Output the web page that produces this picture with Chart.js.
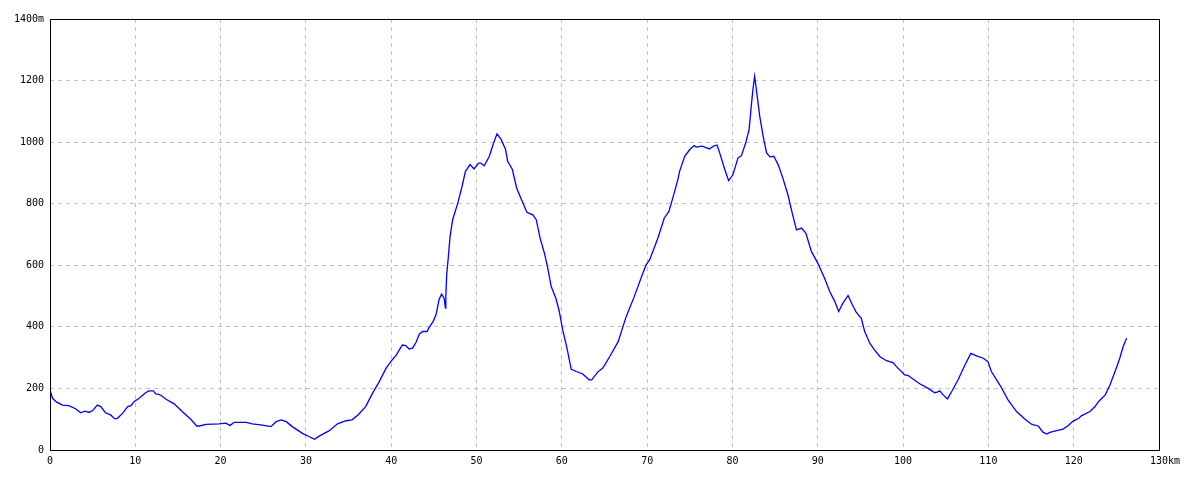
<!DOCTYPE html>
<html>
<head>
<meta charset="utf-8">
<script src="https://cdn.jsdelivr.net/npm/chart.js@4/dist/chart.umd.min.js"></script>
<style>
  html, body { margin: 0; padding: 0; background: #fff; }
  #wrap { width: 1200px; height: 480px; }
</style>
</head>
<body>
<div id="wrap"><canvas id="profileChart" width="1200" height="480"></canvas></div>
<script>
// distance along route (km)
var distanceKm = [
    0, 0.3, 0.7, 1.45, 2.2, 3.0, 3.6, 4.1, 4.6, 5.0, 5.55, 5.95, 6.5, 7.1, 7.6, 7.9,
    8.5, 9.1, 9.5, 9.85, 10.45, 11.2, 11.6, 12.1, 12.4, 12.7, 13.0, 13.6, 14.55, 15.5,
    16.5, 17.2, 17.5, 18.3, 19.8, 20.6, 21.1, 21.6, 23.0, 23.7, 24.9, 25.9, 26.5, 27.1,
    27.7, 28.4, 29.6, 30.4, 31.0, 31.6, 32.7, 33.7, 34.7, 35.4, 36.1, 37.0, 37.8, 38.6,
    39.4, 40.0, 40.6, 41.3, 41.7, 42.1, 42.5, 42.9, 43.3, 43.7, 44.2, 44.4, 44.9, 45.25,
    45.6, 45.9, 46.2, 46.35, 46.4, 46.5, 46.7, 46.9, 47.2, 47.8, 48.3, 48.7, 49.25, 49.7,
    50.25, 50.5, 50.9, 51.5, 52.0, 52.4, 52.9, 53.4, 53.65, 54.2, 54.7, 55.2, 55.9, 56.6,
    57.0, 57.45, 57.95, 58.35, 58.75, 59.3, 59.7, 60.1, 60.6, 61.1, 61.7, 62.45, 63.2,
    63.5, 64.2, 64.8, 65.6, 66.6, 67.55, 68.5, 69.5, 69.9, 70.3, 71.25, 72.0, 72.55, 73.0,
    73.6, 73.8, 74.4, 75.0, 75.5, 75.75, 76.45, 77.3, 77.9, 78.2, 78.5, 79.1, 79.55, 80.05,
    80.65, 81.05, 81.55, 81.95, 82.2, 82.4, 82.6, 82.85, 83.2, 83.6, 84.0, 84.4, 84.85,
    85.35, 85.9, 86.5, 87.0, 87.5, 88.1, 88.6, 89.25, 90.0, 90.8, 91.4, 92.0, 92.45, 92.95,
    93.55, 94.05, 94.5, 95.1, 95.5, 96.1, 96.6, 97.3, 98.05, 98.8, 99.4, 100.2, 100.6,
    101.2, 101.95, 102.9, 103.7, 104.0, 104.3, 104.7, 105.2, 105.7, 106.45, 107.25, 107.95,
    108.6, 109.4, 109.95, 110.35, 111.35, 112.3, 113.3, 114.3, 115.1, 115.85, 116.4, 116.85,
    117.2, 118.0, 118.75, 119.3, 119.9, 120.6, 120.9, 121.9, 122.5, 122.9, 123.7, 124.25,
    124.85, 125.4, 125.8, 126.2
];

// elevation (m)
var elevationM = [
    195, 168, 157, 146, 144, 134, 121, 126, 122, 128, 146, 141, 121, 114, 101, 103,
    119, 141, 144, 157, 168, 186, 192, 192, 182, 181, 178, 165, 150, 125,
    100, 78, 78, 83, 85, 87, 80, 90, 90, 85, 81, 76, 92, 98,
    92, 76, 54, 43, 35, 46, 62, 85, 95, 98, 114, 141, 184, 222,
    266, 289, 309, 341, 339, 328, 331, 349, 377, 385, 385, 396, 417, 439,
    488, 506, 493, 461, 499, 569, 629, 694, 748, 802, 856, 905, 927, 913,
    932, 932, 923, 954, 997, 1027, 1008, 976, 938, 911, 851, 818, 772, 764,
    748, 688, 640, 591, 531, 493, 450, 390, 331, 262, 255, 247, 228,
    228, 253, 266, 303, 352, 434, 499, 575, 602, 618, 688, 753, 775, 818,
    878, 905, 954, 976, 989, 984, 987, 978, 989, 990, 965, 911, 875, 894,
    949, 956, 997, 1041, 1116, 1171, 1214, 1160, 1084, 1019, 965, 952, 954,
    927, 884, 829, 770, 715, 721, 705, 645, 607, 558, 515, 482, 450, 477,
    502, 472, 448, 428, 385, 347, 327, 303, 290, 284, 266, 244, 242,
    230, 215, 201, 186, 188, 192, 179, 166, 190, 228, 276, 314,
    306, 298, 287, 255, 211, 163, 125, 100, 83, 78, 58, 52,
    57, 63, 68, 78, 93, 103, 111, 125, 141, 157, 179, 211,
    255, 298, 336, 363
];

// axis ranges
var xMax = 130, xStep = 10;
var yMax = 1400, yStep = 200;

var points = distanceKm.map(function (d, i) {
    return { x: d, y: elevationM[i] };
});

Chart.defaults.font.family = '"DejaVu Sans Mono", monospace';
Chart.defaults.font.size = 10;
Chart.defaults.color = "#000";

// black frame round the plot area
var framePlugin = {
    id: "frame",
    afterDraw: function (chart) {
        var a = chart.chartArea, ctx = chart.ctx;
        ctx.save();
        ctx.strokeStyle = "#000";
        ctx.lineWidth = 1;
        ctx.strokeRect(a.left + 0.5, a.top + 0.5, a.right - a.left, a.bottom - a.top);
        ctx.restore();
    }
};

var bgPlugin = {
    id: "bg",
    beforeDraw: function (chart) {
        var ctx = chart.ctx;
        ctx.save();
        ctx.fillStyle = "#fff";
        ctx.fillRect(0, 0, chart.width, chart.height);
        ctx.restore();
    }
};

var ctx = document.getElementById("profileChart").getContext("2d");
var profileChart = new Chart(ctx, {
    type: "line",
    data: {
        datasets: [{
            label: "Elevation",
            data: points,
            borderColor: "#0000ff",
            borderWidth: 1.3,
            pointRadius: 0,
            fill: false,
            tension: 0
        }]
    },
    options: {
        responsive: false,
        animation: false,
        layout: { padding: { top: 19, right: 41, left: 0, bottom: 0 } },
        plugins: {
            legend: { display: false },
            tooltip: { enabled: false }
        },
        scales: {
            x: {
                type: "linear",
                min: 0,
                max: xMax,
                afterFit: function (s) { s.height = 30; },
                grid: { color: "#c0c0c0", drawTicks: false },
                border: { display: false, dash: [4, 4] },
                ticks: {
                    stepSize: xStep,
                    padding: 5,
                    maxRotation: 0,
                    autoSkip: false,
                    callback: function (value) {
                        return value === xMax ? "  " + value + "km" : value;
                    }
                }
            },
            y: {
                min: 0,
                max: yMax,
                afterFit: function (s) { s.width = 50; },
                grid: { color: "#c0c0c0", drawTicks: false },
                border: { display: false, dash: [4, 4] },
                ticks: {
                    stepSize: yStep,
                    padding: 6,
                    callback: function (value) {
                        return value === yMax ? value + "m" : value;
                    }
                }
            }
        }
    },
    plugins: [bgPlugin, framePlugin]
});
</script>
</body>
</html>
